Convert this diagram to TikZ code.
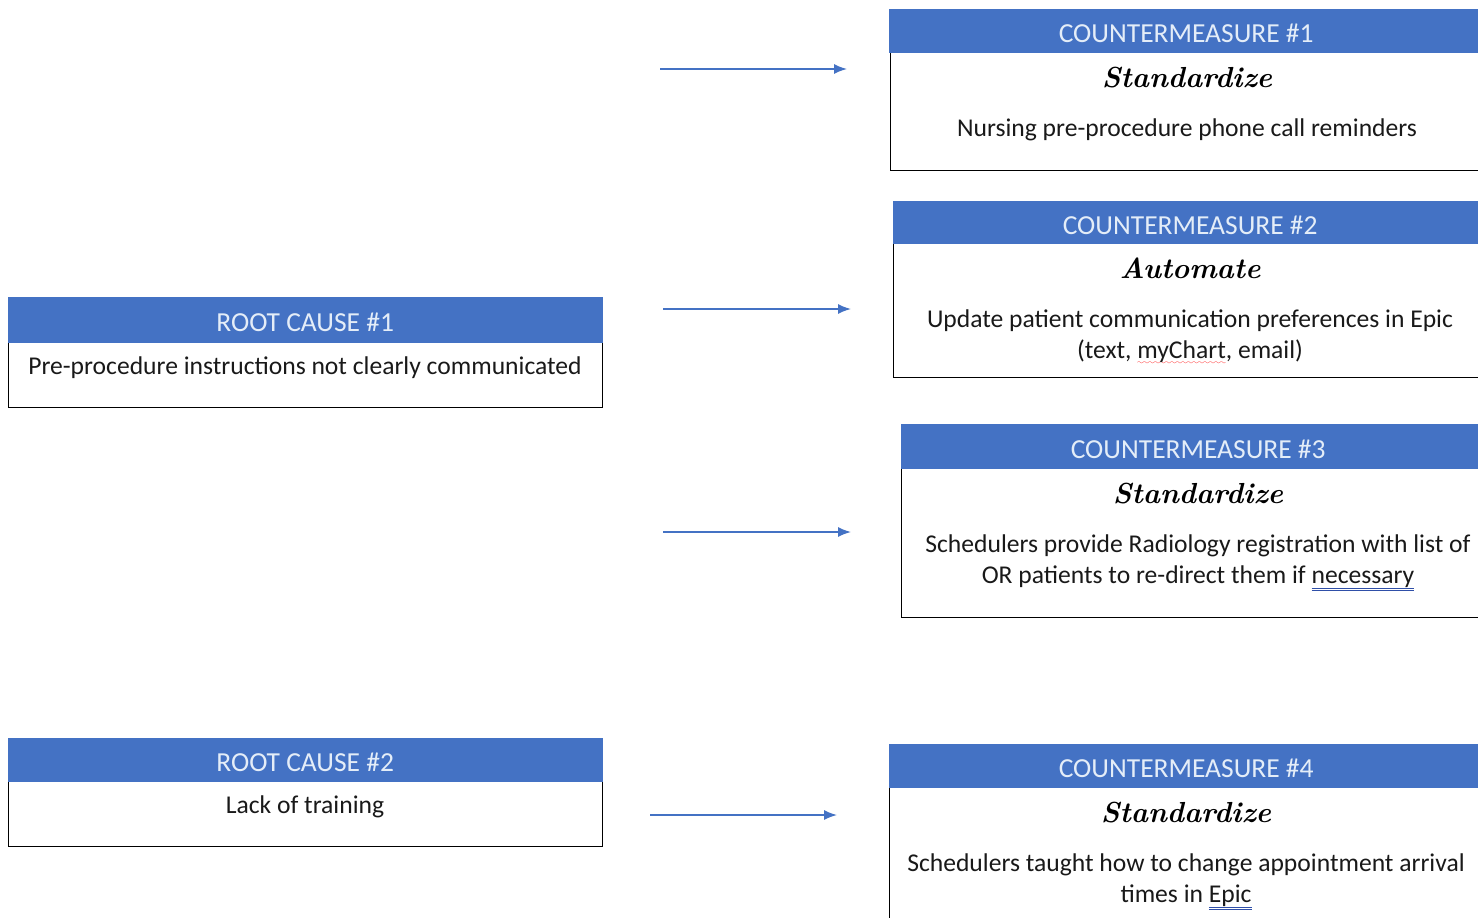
\documentclass[tikz,border=0pt]{standalone}
\usepackage{fontspec}
\setsansfont{Carlito}
\usetikzlibrary{arrows.meta}
\definecolor{hdr}{HTML}{4472C4}
\definecolor{hdrtxt}{HTML}{E4EDF8}
\definecolor{ulblue}{HTML}{2F4FA8}
\newsavebox\ulbox
\font\wavefont=lasy7
\newcommand\bluedbl[1]{\sbox\ulbox{#1}\rlap{\color{ulblue}\rule[-5.5pt]{\wd\ulbox}{1pt}}\rlap{\color{ulblue}\rule[-8pt]{\wd\ulbox}{1pt}}\usebox\ulbox}
\newcommand\redwave[1]{\sbox\ulbox{#1}\rlap{\color{red}\lower6pt\hbox to \wd\ulbox{\xleaders\hbox{\wavefont\char58}\hfil}}\usebox\ulbox}
\begin{document}
\begin{tikzpicture}[x=1pt,y=-1pt,
  every node/.style={font=\sffamily\fontsize{25.6}{31}\selectfont},
  hdrbox/.style={anchor=north west, fill=hdr, draw=hdr, text=hdrtxt, minimum width=594pt, inner sep=0pt, text height=24pt, text depth=0pt, font=\sffamily\fontsize{27.5}{31}\selectfont},
  bodybox/.style={anchor=north west, draw=black, line width=1.3pt, minimum width=594pt, inner sep=0pt},
  bodytext/.style={align=center, inner sep=0pt, text=black!90},
  scripttext/.style={inner sep=0pt, font=\rmfamily\bfseries\itshape\fontsize{29}{31}\selectfont},
  conn/.style={-{Latex[length=13pt,width=10pt]}, draw=hdr, line width=1.5pt}]
\useasboundingbox (0,0) rectangle (1478,918);
\clip (0,0) rectangle (1478,918);

% Root cause 1
\node[bodybox, minimum height=65pt] (rc1b) at (8,342) {};
\node[hdrbox, minimum height=45pt] (rc1h) at (8,297) {ROOT CAUSE \#1};
\node[bodytext] (rc1t) at (305,368) {Pre-procedure instructions not clearly communicated};

% Root cause 2
\node[bodybox, minimum height=65pt] (rc2b) at (8,781) {};
\node[hdrbox, minimum height=43pt] (rc2h) at (8,738) {ROOT CAUSE \#2};
\node[bodytext] (rc2t) at (305,807) {Lack of training};

% Countermeasure 1
\node[bodybox, minimum height=118pt] (cm1b) at (890,52) {};
\node[hdrbox, minimum height=43pt] (cm1h) at (889,9) {COUNTERMEASURE \#1};
\node[scripttext] (cm1s) at (1187,78) {Standardize};
\node[bodytext] (cm1t) at (1187,130) {Nursing pre-procedure phone call reminders};

% Countermeasure 2
\node[bodybox, minimum height=134pt] (cm2b) at (893,243) {};
\node[hdrbox, minimum height=42pt] (cm2h) at (893,201) {COUNTERMEASURE \#2};
\node[scripttext] (cm2s) at (1190,268) {Automate};
\node[bodytext] (cm2t) at (1190,337) {Update patient communication preferences in Epic\\(text, \redwave{myChart}, email)};

% Countermeasure 3
\node[bodybox, minimum height=149pt] (cm3b) at (901,468) {};
\node[hdrbox, minimum height=44pt] (cm3h) at (901,424) {COUNTERMEASURE \#3};
\node[scripttext] (cm3s) at (1198,494) {Standardize};
\node[bodytext] (cm3t) at (1198,563) {Schedulers provide Radiology registration with list of\\OR patients to re-direct them if \bluedbl{necessary}};

% Countermeasure 4
\node[bodybox, minimum height=160pt] (cm4b) at (889,787) {};
\node[hdrbox, minimum height=43pt] (cm4h) at (889,744) {COUNTERMEASURE \#4};
\node[scripttext] (cm4s) at (1186,813) {Standardize};
\node[bodytext] (cm4t) at (1186,882) {Schedulers taught how to change appointment arrival\\times in \bluedbl{Epic}};

% Arrows
\coordinate (a1s) at (660,69);  \coordinate (a1e) at (847,69);
\coordinate (a2s) at (663,309); \coordinate (a2e) at (851,309);
\coordinate (a3s) at (663,532); \coordinate (a3e) at (851,532);
\coordinate (a4s) at (650,815); \coordinate (a4e) at (837,815);
\draw[conn] (a1s) -- (a1e);
\draw[conn] (a2s) -- (a2e);
\draw[conn] (a3s) -- (a3e);
\draw[conn] (a4s) -- (a4e);
\end{tikzpicture}
\end{document}
